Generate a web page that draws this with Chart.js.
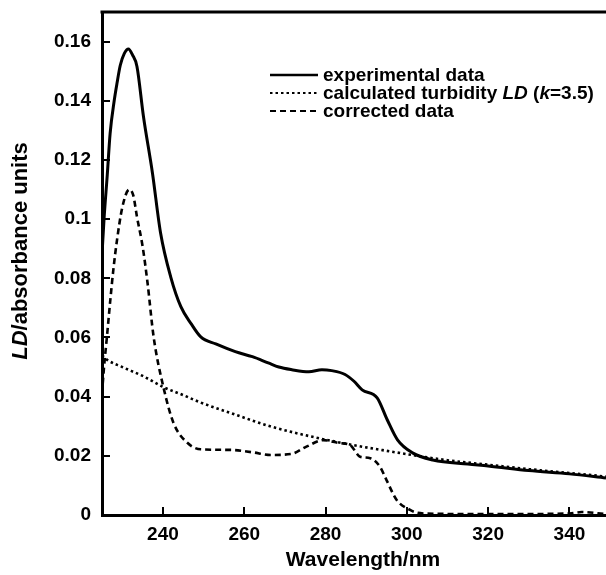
<!DOCTYPE html>
<html>
<head>
<meta charset="utf-8">
<script src="https://cdn.jsdelivr.net/npm/chart.js@4.4.1/dist/chart.umd.min.js"></script>
<style>
  html, body { margin: 0; padding: 0; background: #fff; overflow: hidden; }
  canvas { display: block; }
</style>
</head>
<body>
<canvas id="ldChart" width="606" height="575" style="width:606px;height:575px"></canvas>
<script>
// experimental data (solid line)
var expWl = [225, 225.5, 226.3, 227, 228, 228.7, 229.5, 230.5, 231.5, 232.5, 233.6, 235.2, 237.4, 239.4, 241.9, 244.4, 247, 249.3, 253, 257.8, 262, 265.9, 268.5, 271.7, 275.9, 279.1, 281.5, 284.8, 287, 289, 292.7, 295.2, 297.7, 301.4, 306.4, 315, 320, 330, 340, 349]
var expLD = [0.088, 0.100, 0.115, 0.129, 0.140, 0.146, 0.152, 0.156, 0.1575, 0.1555, 0.1516, 0.1347, 0.1157, 0.0954, 0.0805, 0.0704, 0.0645, 0.0602, 0.0578, 0.0552, 0.0535, 0.0514, 0.0500, 0.0491, 0.0484, 0.0491, 0.0488, 0.0475, 0.0452, 0.0423, 0.0396, 0.0321, 0.0254, 0.0210, 0.0186, 0.0172, 0.0166, 0.0150, 0.0139, 0.0125]

// calculated turbidity LD, k=3.5 (dotted line)
var turbWl = [225, 226.2, 230, 235, 240, 245, 249.3, 256.8, 266.6, 276.5, 286.5, 296.3, 301.2, 310, 320, 330, 340, 349]
var turbLD = [0.054, 0.0525, 0.0500, 0.0470, 0.0433, 0.0405, 0.0380, 0.0344, 0.0299, 0.0265, 0.0237, 0.0214, 0.0203, 0.0185, 0.0170, 0.0155, 0.0142, 0.0130]

// corrected data (dashed line)
var corrWl = [225, 225.5, 226.2, 227, 227.8, 228.7, 230, 231.7, 232.7, 233.6, 235, 236.2, 237.7, 240.1, 242.6, 246, 249.3, 256.8, 262, 266.6, 271.5, 275.3, 279.4, 283.5, 286, 288.5, 291, 293.4, 295, 297.5, 300.8, 302.4, 305, 320, 340, 343, 349]
var corrLD = [0.041, 0.050, 0.060, 0.072, 0.083, 0.093, 0.104, 0.110, 0.108, 0.1008, 0.0907, 0.0785, 0.0602, 0.0433, 0.0311, 0.0244, 0.0222, 0.0220, 0.0212, 0.0203, 0.0206, 0.0231, 0.0253, 0.0243, 0.0237, 0.0197, 0.0192, 0.0163, 0.0118, 0.0051, 0.0017, 0.0008, 0.0005, 0.0003, 0.0005, 0.0010, 0.0003]

var xTicks = [240, 260, 280, 300, 320, 340]
var yTicks = [0, 0.02, 0.04, 0.06, 0.08, 0.1, 0.12, 0.14, 0.16]

var FONT = '"Liberation Sans", Arial, sans-serif'

function toPoints(xs, ys) {
  return xs.map(function (x, i) {
    return { x: x, y: ys[i] }
  })
}

// draw a line of text made of plain / italic pieces, starting at x
function drawParts(ctx, parts, x, y, size) {
  parts.forEach(function (p) {
    ctx.font = (p[1] ? 'italic ' : '') + 'bold ' + size + 'px ' + FONT
    ctx.fillText(p[0], x, y)
    x += ctx.measureText(p[0]).width
  })
}

function partsWidth(ctx, parts, size) {
  var w = 0
  parts.forEach(function (p) {
    ctx.font = (p[1] ? 'italic ' : '') + 'bold ' + size + 'px ' + FONT
    w += ctx.measureText(p[0]).width
  })
  return w
}

var legendRows = [
  { dash: [], parts: [['experimental data', false]] },
  { dash: [2.5, 3], parts: [['calculated turbidity ', false], ['LD', true], [' (', false], ['k', true], ['=3.5)', false]] },
  { dash: [6, 4], parts: [['corrected data', false]] }
]

var decor = {
  id: 'decor',
  afterDraw: function (chart) {
    var ctx = chart.ctx
    var area = chart.chartArea
    var xs = chart.scales.x
    var ys = chart.scales.y
    ctx.save()
    ctx.strokeStyle = '#000'
    ctx.fillStyle = '#000'

    // top frame line
    ctx.lineWidth = 3
    ctx.beginPath()
    ctx.moveTo(area.left - 1.5, area.top)
    ctx.lineTo(area.right, area.top)
    ctx.stroke()

    // inward tick marks
    ctx.lineWidth = 2
    ctx.beginPath()
    xTicks.forEach(function (v) {
      var px = Math.round(xs.getPixelForValue(v))
      ctx.moveTo(px, area.bottom)
      ctx.lineTo(px, area.bottom - 8)
    })
    yTicks.forEach(function (v) {
      var py = Math.round(ys.getPixelForValue(v))
      ctx.moveTo(area.left, py)
      ctx.lineTo(area.left + 8, py)
    })
    ctx.stroke()

    // legend
    ctx.textBaseline = 'middle'
    ctx.textAlign = 'left'
    legendRows.forEach(function (row, i) {
      var y = 75 + i * 18
      ctx.lineWidth = i === 0 ? 2.5 : 2.2
      ctx.setLineDash(row.dash)
      ctx.beginPath()
      ctx.moveTo(270, y)
      ctx.lineTo(318, y)
      ctx.stroke()
      ctx.setLineDash([])
      drawParts(ctx, row.parts, 323, y + 1, 19)
    })

    // x axis title
    var xt = [['Wavelength/nm', false]]
    var w = partsWidth(ctx, xt, 21)
    drawParts(ctx, xt, 363 - w / 2, 560, 21)

    // y axis title
    var yt = [['LD', true], ['/absorbance units', false]]
    ctx.translate(21, 251)
    ctx.rotate(-Math.PI / 2)
    w = partsWidth(ctx, yt, 22)
    drawParts(ctx, yt, -w / 2, 0, 22)
    ctx.restore()
  }
}

var ctx = document.getElementById('ldChart').getContext('2d')
var ldChart = new Chart(ctx, {
  type: 'line',
  data: {
    datasets: [{
      label: 'calculated turbidity LD (k=3.5)',
      data: toPoints(turbWl, turbLD),
      borderColor: '#000',
      borderWidth: 2.6,
      borderDash: [2.5, 3],
      pointRadius: 0,
      fill: false,
      cubicInterpolationMode: 'monotone'
    }, {
      label: 'corrected data',
      data: toPoints(corrWl, corrLD),
      borderColor: '#000',
      borderWidth: 2.6,
      borderDash: [6, 4],
      pointRadius: 0,
      fill: false,
      cubicInterpolationMode: 'monotone'
    }, {
      label: 'experimental data',
      data: toPoints(expWl, expLD),
      borderColor: '#000',
      borderWidth: 3,
      pointRadius: 0,
      fill: false,
      cubicInterpolationMode: 'monotone'
    }]
  },
  options: {
    responsive: false,
    animation: false,
    devicePixelRatio: 1,
    layout: { padding: { top: 12, right: 0, left: 0, bottom: 0 } },
    plugins: {
      legend: { display: false },
      tooltip: { enabled: false }
    },
    scales: {
      x: {
        type: 'linear',
        min: 225,
        max: 349,
        afterBuildTicks: function (scale) {
          scale.ticks = xTicks.map(function (v) { return { value: v } })
        },
        afterFit: function (scale) {
          scale.height = 60
          scale.paddingLeft = 0
          scale.paddingRight = 0
        },
        border: { display: true, color: '#000', width: 3 },
        grid: { drawOnChartArea: false, drawTicks: false },
        ticks: {
          color: '#000',
          padding: 8,
          maxRotation: 0,
          font: { family: FONT, weight: 'bold', size: 19 }
        }
      },
      y: {
        min: 0,
        max: 0.17,
        afterBuildTicks: function (scale) {
          scale.ticks = yTicks.map(function (v) { return { value: v } })
        },
        afterFit: function (scale) {
          scale.width = 102
          scale.paddingTop = 0
          scale.paddingBottom = 0
        },
        border: { display: true, color: '#000', width: 3 },
        grid: { drawOnChartArea: false, drawTicks: false },
        ticks: {
          color: '#000',
          padding: 11,
          font: { family: FONT, weight: 'bold', size: 19 },
          callback: function (v) {
            return String(+v.toFixed(2))
          }
        }
      }
    }
  },
  plugins: [decor]
})
</script>
</body>
</html>
